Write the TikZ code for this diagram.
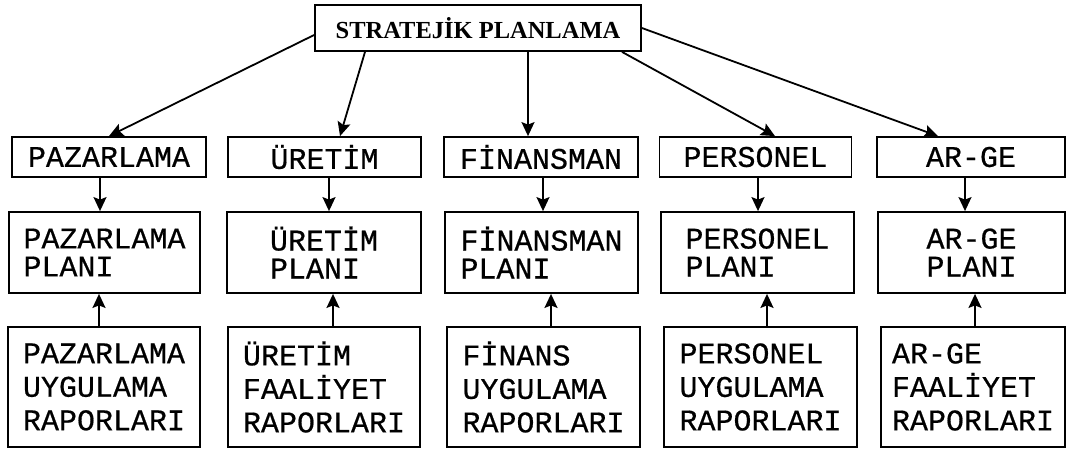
\documentclass[tikz,border=0pt]{standalone}
\usepackage{fontspec}
\setmainfont{Liberation Serif}
\newfontfamily\boxfont[FakeBold=0.6]{Liberation Mono}
\usetikzlibrary{arrows.meta}
\tikzstyle{l1}=[line width=1.8]
\tikzstyle{arr}=[l1, -{Stealth[length=14pt, width=13pt, inset=2.5pt]}]
\tikzstyle{head}=[rectangle, draw=black, l1, inner sep=0pt, minimum width=326, minimum height=46, font=\bfseries\fontsize{24.5}{24.5}\selectfont]
\tikzstyle{unit}=[rectangle, draw=black, l1, inner sep=0pt, minimum height=40, font=\boxfont\fontsize{30}{30}\selectfont]
\tikzstyle{plan}=[unit, align=left, minimum height=81, font=\boxfont\fontsize{30}{28}\selectfont]
\tikzstyle{report}=[unit, align=left, minimum height=120, font=\boxfont\fontsize{30}{33.5}\selectfont]

\begin{document}
\begin{tikzpicture}[x=1pt,y=-1pt]
    \useasboundingbox (0,0) rectangle (1068,448);
    \node[head] (sp) at (478, 28) {STRATEJİK PLANLAMA};

    \node[unit, minimum width=194] (paz)  at (109, 157)   {PAZARLAMA};
    \node[unit, minimum width=193] (ure)  at (324.5, 157) {ÜRETİM};
    \node[unit, minimum width=194] (fin)  at (541, 157)   {FİNANSMAN};
    \node[unit, minimum width=192] (per)  at (755.5, 157) {PERSONEL};
    \node[unit, minimum width=188] (arge) at (971, 157)   {AR-GE};

    \node[plan, minimum width=191] (pazp)  at (104.5, 252.5) {PAZARLAMA\\PLANI};
    \node[plan, minimum width=194] (urep)  at (324, 252.5)   {ÜRETİM\\PLANI};
    \node[plan, minimum width=193] (finp)  at (541.5, 252.5) {FİNANSMAN\\PLANI};
    \node[plan, minimum width=193] (perp)  at (757.5, 252.5) {PERSONEL\\PLANI};
    \node[plan, minimum width=187] (argep) at (971.5, 252.5) {AR-GE\\PLANI};

    \node[report, minimum width=192] (pazr)  at (104, 387)   {PAZARLAMA\\UYGULAMA\\RAPORLARI};
    \node[report, minimum width=192] (urer)  at (324, 387)   {ÜRETİM\\FAALİYET\\RAPORLARI};
    \node[report, minimum width=193] (finr)  at (543.5, 387) {FİNANS\\UYGULAMA\\RAPORLARI};
    \node[report, minimum width=193] (perr)  at (760.5, 387) {PERSONEL\\UYGULAMA\\RAPORLARI};
    \node[report, minimum width=184] (arger) at (973, 387)   {AR-GE\\FAALİYET\\RAPORLARI};

    % strategic plan down to the units
    \draw[arr] ([yshift=-7pt]sp.west) -- (paz.north);
    \draw[arr] ([xshift=-113pt]sp.south) -- ([xshift=15.5pt]ure.north);
    \draw[arr] ([xshift=50pt]sp.south) -- ([xshift=-13pt]fin.north);
    \draw[arr] ([xshift=144pt]sp.south) -- ([xshift=19.5pt]per.north);
    \draw[arr] (sp.east) -- ([xshift=-33pt]arge.north);

    % units to plans
    \draw[arr] ([xshift=-9pt]paz.south) -- ([xshift=-4.5pt]pazp.north);
    \draw[arr] ([xshift=4.5pt]ure.south) -- ([xshift=5pt]urep.north);
    \draw[arr] ([xshift=2pt]fin.south) -- ([xshift=1.5pt]finp.north);
    \draw[arr] ([xshift=2.5pt]per.south) -- ([xshift=0.5pt]perp.north);
    \draw[arr] ([xshift=-6pt]arge.south) -- ([xshift=-6.5pt]argep.north);

    % reports up to plans
    \draw[arr] ([xshift=-5pt]pazr.north) -- ([xshift=-5.5pt]pazp.south);
    \draw[arr] ([xshift=9pt]urer.north) -- ([xshift=9pt]urep.south);
    \draw[arr] ([xshift=7.5pt]finr.north) -- ([xshift=9.5pt]finp.south);
    \draw[arr] ([xshift=6.5pt]perr.north) -- ([xshift=9.5pt]perp.south);
    \draw[arr] ([xshift=2pt]arger.north) -- ([xshift=3.5pt]argep.south);
\end{tikzpicture}
\end{document}
